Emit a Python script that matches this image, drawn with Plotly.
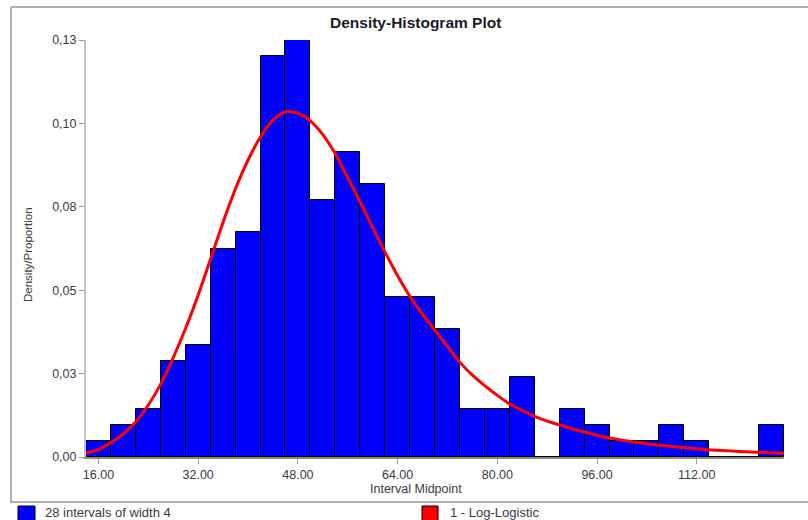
import plotly.graph_objects as go

# ---- data ----
interval_midpoints = [16, 20, 24, 28, 32, 36, 40, 44, 48, 52, 56, 60, 64, 68,
                      72, 76, 80, 84, 88, 92, 96, 100, 104, 108, 112, 116, 120, 124]
proportions = [0.005, 0.010, 0.015, 0.030, 0.035, 0.065, 0.070, 0.125, 0.130, 0.080,
               0.095, 0.085, 0.050, 0.050, 0.040, 0.015, 0.015, 0.025, 0.000, 0.015,
               0.010, 0.005, 0.005, 0.010, 0.005, 0.000, 0.000, 0.010]

curve_x = [14, 16, 18, 20, 22, 24, 26, 28, 30, 32, 34, 36, 38, 40, 42, 44, 46, 48,
           50, 52, 54, 56, 58, 60, 62, 64, 66, 68, 70, 72, 74, 76, 78, 80, 82, 84,
           86, 88, 90, 92, 94, 96, 98, 100, 104, 108, 112, 116, 120, 124, 126]
curve_y = [0.0013, 0.0023, 0.0045, 0.0072, 0.0110, 0.0162, 0.0228, 0.0310, 0.0402,
           0.0505, 0.0618, 0.0732, 0.0837, 0.0926, 0.0998, 0.1050, 0.1076, 0.1072,
           0.1048, 0.1005, 0.0945, 0.0870, 0.0795, 0.0715, 0.0638, 0.0565, 0.0500,
           0.0445, 0.0395, 0.0345, 0.0295, 0.0255, 0.0222, 0.0192, 0.0165, 0.0145,
           0.0127, 0.0112, 0.0100, 0.0088, 0.0078, 0.0068, 0.0059, 0.0052, 0.0041,
           0.0033, 0.0026, 0.0020, 0.0016, 0.0013, 0.0012]

x_tickvals = [16, 32, 48, 64, 80, 96, 112]
x_ticktext = ["16.00", "32.00", "48.00", "64.00", "80.00", "96.00", "112.00"]
y_tickvals = [0.0, 0.026, 0.052, 0.078, 0.104, 0.13]
y_ticktext = ["0,00", "0,03", "0,05", "0,08", "0,10", "0,13"]

title_text = "Density-Histogram Plot"
x_title = "Interval Midpoint"
y_title = "Density/Proportion"
legend_hist = "28 intervals of width 4"
legend_curve = "1 - Log-Logistic"

# ---- layout geometry (pixels) ----
W, H = 808, 520
PL, PR, PT, PB = 86, 784, 40, 457


def px(x):
    return (x - PL) / (PR - PL)


def py(y):
    return (PB - y) / (PB - PT)


FONT = "Liberation Sans, Arial, sans-serif"
TXT = "#3a3a44"

fig = go.Figure()
fig.add_trace(go.Bar(
    x=interval_midpoints, y=proportions, width=4,
    marker=dict(color="#0000FF", line=dict(color="#000000", width=1)),
    showlegend=False, name=legend_hist,
))
fig.add_trace(go.Scatter(
    x=curve_x, y=curve_y, mode="lines",
    line=dict(color="#FF0000", width=3, shape="spline"),
    showlegend=False, name=legend_curve,
))

frame_col = "#b0b0b0"
shapes = [
    dict(type="line", xref="paper", yref="paper", x0=px(11), x1=px(11), y0=py(7), y1=py(502),
         line=dict(color=frame_col, width=2)),
    dict(type="line", xref="paper", yref="paper", x0=px(11), x1=px(812), y0=py(7), y1=py(7),
         line=dict(color=frame_col, width=2)),
    dict(type="line", xref="paper", yref="paper", x0=px(10), x1=px(812), y0=py(502), y1=py(502),
         line=dict(color=frame_col, width=2)),
    dict(type="rect", xref="paper", yref="paper", x0=px(18), x1=px(35), y0=py(506), y1=py(523),
         fillcolor="#0000FF", line=dict(color="#000000", width=1)),
    dict(type="rect", xref="paper", yref="paper", x0=px(422), x1=px(438), y0=py(506), y1=py(523),
         fillcolor="#FF0000", line=dict(color="#000000", width=1)),
]

annotations = [
    dict(text="<b>" + title_text + "</b>", xref="paper", yref="paper", x=px(415), y=py(22),
         showarrow=False, xanchor="center", yanchor="middle",
         font=dict(family=FONT, size=15.5, color="#1a1a2a")),
    dict(text=x_title, xref="paper", yref="paper", x=px(416), y=py(489),
         showarrow=False, xanchor="center", yanchor="middle",
         font=dict(family=FONT, size=12.5, color=TXT)),
    dict(text=y_title, xref="paper", yref="paper", x=px(28), y=py(255), textangle=-90,
         showarrow=False, xanchor="center", yanchor="middle",
         font=dict(family=FONT, size=11.5, color=TXT)),
    dict(text=legend_hist, xref="paper", yref="paper", x=px(43), y=py(512),
         showarrow=False, xanchor="left", yanchor="middle",
         font=dict(family=FONT, size=13, color=TXT)),
    dict(text=legend_curve, xref="paper", yref="paper", x=px(448), y=py(512),
         showarrow=False, xanchor="left", yanchor="middle",
         font=dict(family=FONT, size=13, color=TXT)),
]

fig.update_layout(
    width=W, height=H,
    margin=dict(l=PL, r=W - PR, t=PT, b=H - PB, pad=0),
    paper_bgcolor="white", plot_bgcolor="white",
    bargap=0, showlegend=False,
    shapes=shapes, annotations=annotations,
    font=dict(family=FONT, size=12, color=TXT),
    xaxis=dict(range=[14, 126], tickvals=x_tickvals, ticktext=x_ticktext,
               showgrid=False, zeroline=False, showline=True, linecolor="#8a8a8a", linewidth=1.5,
               ticks="outside", ticklen=5, tickcolor="#9a9a9a", tickwidth=1,
               tickfont=dict(family=FONT, size=12.5, color=TXT)),
    yaxis=dict(range=[0, 0.13], tickvals=y_tickvals, ticktext=y_ticktext,
               showgrid=False, zeroline=False, showline=True, linecolor="#c4c4c4", linewidth=2,
               ticks="outside", ticklen=5, tickcolor="#9a9a9a", tickwidth=1,
               tickfont=dict(family=FONT, size=12.5, color=TXT)),
)

fig.write_html("out.html")
